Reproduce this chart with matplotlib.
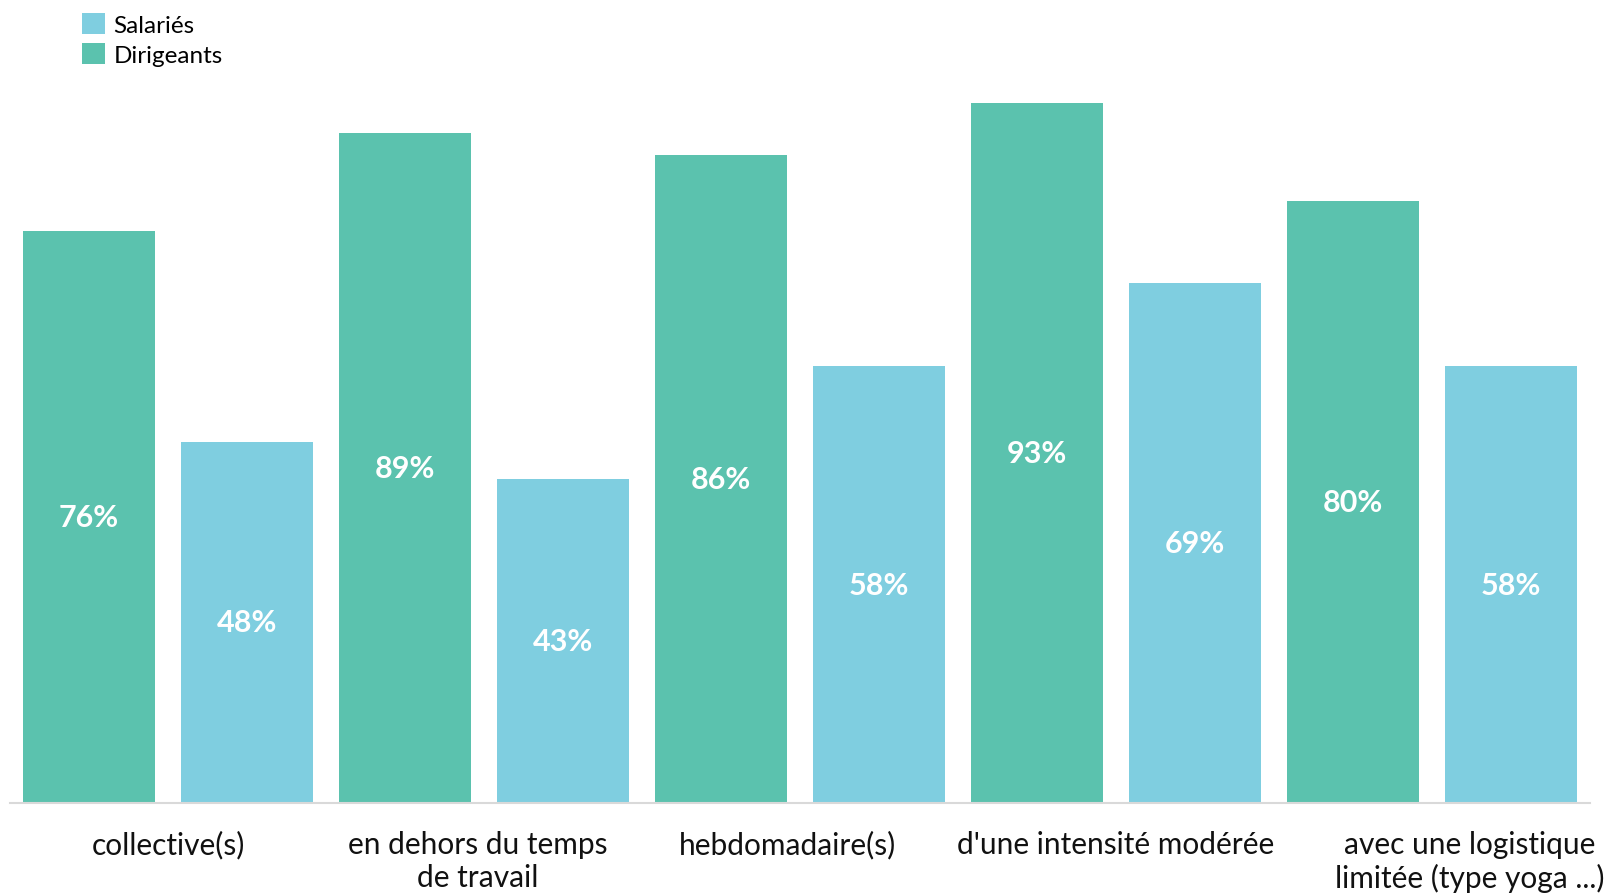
import matplotlib
matplotlib.use("Agg")
import matplotlib.pyplot as plt
from matplotlib.patches import Patch
import numpy as np

categories = ["collective(s)", "en dehors du temps\nde travail", "hebdomadaire(s)",
              "d'une intensité modérée", "avec une logistique\nlimitée (type yoga ...)"]
dirigeants = [76, 89, 86, 93, 80]
salaries = [48, 43, 58, 69, 58]

c_dir = "#5BC2AE"
c_sal = "#7FCEE0"

plt.rcParams['font.family'] = ['Lato', 'DejaVu Sans']

fig = plt.figure(figsize=(16.11, 8.95), dpi=100)
ax = fig.add_axes([10/1611, (895-804)/895, 1580/1611, (804-51)/895])

n = len(categories)
x_dir = np.arange(n) * 2
x_sal = x_dir + 1
w = 132/158
b1 = ax.bar(x_dir, dirigeants, width=w, color=c_dir, zorder=2)
b2 = ax.bar(x_sal, salaries, width=w, color=c_sal, zorder=2)

for rects, vals in ((b1, dirigeants), (b2, salaries)):
    for r, v in zip(rects, vals):
        ax.text(r.get_x() + r.get_width()/2, v/2, f"{v}%", ha='center', va='center',
                color='white', fontsize=22, fontweight='bold')

ax.set_xlim(-0.5, 2*n - 0.5)
ax.set_ylim(0, 100)
for s in ['top', 'right', 'left']:
    ax.spines[s].set_visible(False)
ax.spines['bottom'].set_color('#D9D9D9')
ax.spines['bottom'].set_linewidth(1.5)
ax.set_yticks([])
ax.set_xticks([])

offsets = [0.0, -0.04, -0.08, 0.0, 0.24]
for i, (cat, off) in enumerate(zip(categories, offsets)):
    ax.text(x_dir[i] + 0.5 + off, -3.6, cat, ha='center', va='top', fontsize=21.5,
            color='#111111', linespacing=1.2, clip_on=False)

handles = [Patch(facecolor=c_sal, label="Salariés"), Patch(facecolor=c_dir, label="Dirigeants")]
fig.legend(handles=handles, loc='upper left', bbox_to_anchor=(72/1611, 1 - 4/895),
           frameon=False, fontsize=17.5, handlelength=0.95, handleheight=0.95,
           handletextpad=0.35, labelspacing=0.3, borderaxespad=0)

fig.savefig("out.png", dpi=100)
